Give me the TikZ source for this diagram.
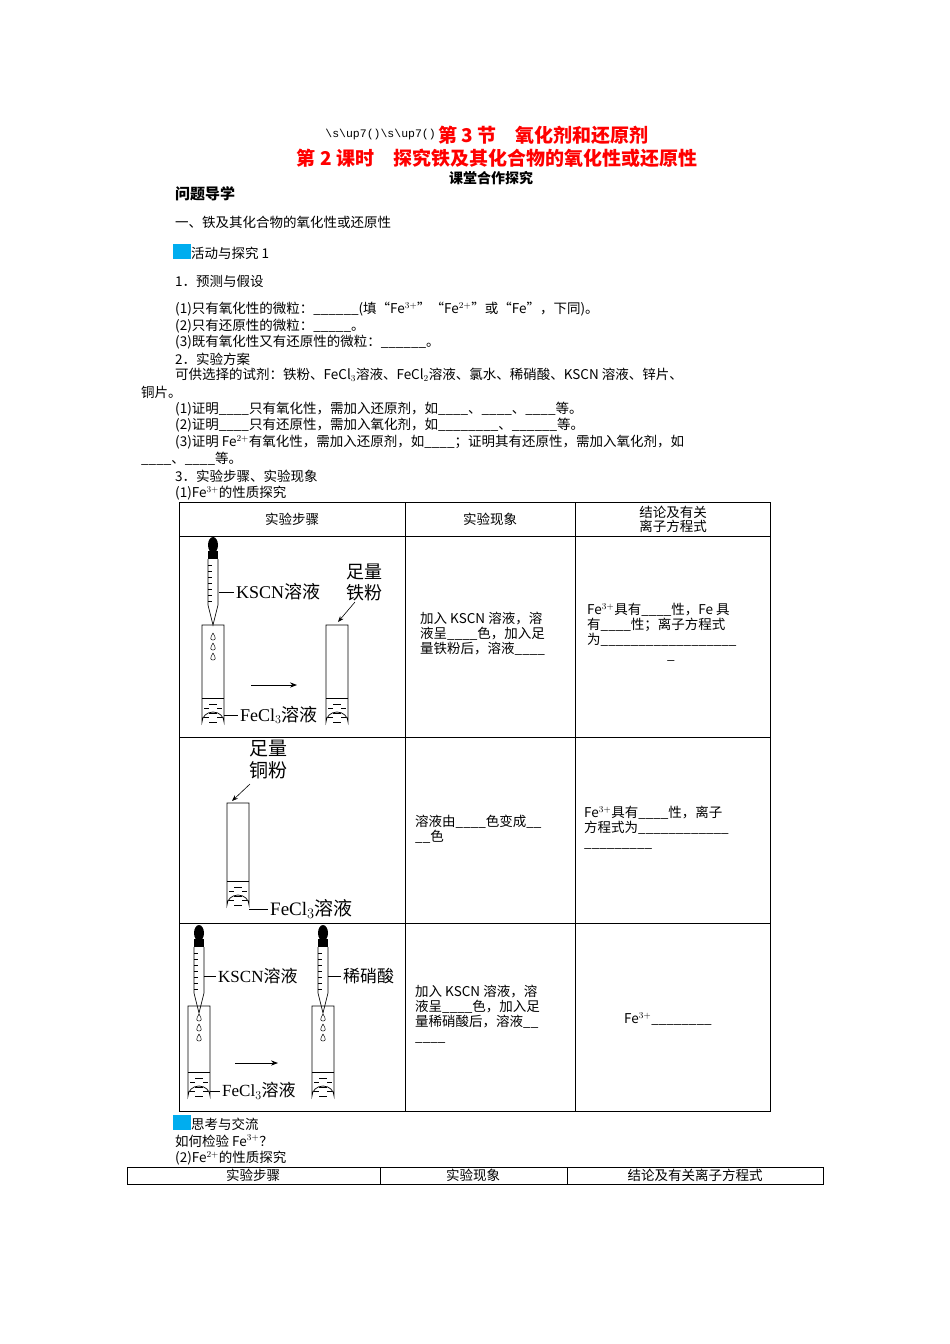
\documentclass[tikz,border=0pt]{standalone}
\usepackage{fontspec}
\setmainfont{Liberation Serif}
\setmonofont{Liberation Mono}
\newfontfamily\cjk{Noto Sans CJK SC}
\usetikzlibrary{arrows.meta}
\newcommand\zh[1]{{\cjk #1}}
\begin{document}
\begin{tikzpicture}[x=1pt,y=-1pt,
 t/.style={anchor=west,inner sep=0,font=\cjk\fontsize{13.5}{15}\selectfont},
 lab/.style={anchor=west,inner sep=0,font=\fontsize{18}{20}\selectfont},
 cell/.style={anchor=north west,inner sep=0,align=left,font=\cjk\fontsize{13.5}{15}\selectfont},
 grid/.style={line width=0.8pt},
 pics/tube/.style={code={
   \draw[line width=0.7pt] (-11,0) -- (-11,#1-10) arc(180:360:11 and 10) -- (11,0) -- cycle;
   \draw[line width=0.6pt] (-11,#1-34) -- (11,#1-34);
   \foreach \yy in {-28,-19,-10}{\draw[line width=0.5pt] (-4,#1+\yy) -- (4,#1+\yy);}
   \foreach \yy in {-23.5,-14.5}{\draw[line width=0.5pt] (-9,#1+\yy) -- (-4,#1+\yy) (4,#1+\yy) -- (9,#1+\yy);}
 }},
 pics/pip/.style={code={
   \fill (0,0) ellipse (5 and 8);
   \fill (-5,6) rectangle (5,14);
   \draw[line width=0.7pt] (-5,14) -- (-5,60) -- (0,80) -- (5,60) -- (5,14);
   \foreach \yy in {20,26,...,56}{\draw[line width=0.4pt] (-5,\yy) -- (-1,\yy);}
 }},
 pics/drops/.style={code={
   \foreach \yy in {0,10,20}{\draw[line width=0.5pt] (0,\yy) .. controls (-3,\yy+5) and (-3,\yy+7) .. (0,\yy+7) .. controls (3,\yy+7) and (3,\yy+5) .. (0,\yy);}
 }}]
\fill[white] (0,0) rectangle (950,1344);
\node[anchor=east,inner sep=0,font=\ttfamily\fontsize{11.5}{14}\selectfont] (h0) at (436,135) {\textbackslash s\textbackslash up7()\textbackslash s\textbackslash up7()};
\node[anchor=west,inner sep=0,text=red,font=\cjk\bfseries\fontsize{19}{21}\selectfont] (h1) at (438,135) {第 3 节\quad 氧化剂和还原剂};
\node[anchor=center,inner sep=0,text=red,font=\cjk\bfseries\fontsize{19}{21}\selectfont] (h2) at (497,158) {第 2 课时\quad 探究铁及其化合物的氧化性或还原性};
\node[anchor=center,inner sep=0,font=\cjk\bfseries\fontsize{14}{16}\selectfont] (h3) at (491,178) {课堂合作探究};
\node[t,font=\cjk\bfseries\fontsize{15}{16}\selectfont] (a1) at (175,194) {问题导学};
\node[t] (a2) at (175,222) {一、铁及其化合物的氧化性或还原性};
\fill[cyan] (173,244) rectangle (191,259);
\node[t] (a3) at (191,253) {活动与探究 1};
\node[t] (a4) at (175,281) {1．预测与假设};
\node[t] (a5) at (175,309) {(1)只有氧化性的微粒：\_\_\_\_\_\_(填“Fe$^{3+}$”“Fe$^{2+}$”或“Fe”，下同)。};
\node[t] (a6) at (175,326) {(2)只有还原性的微粒：\_\_\_\_\_。};
\node[t] (a7) at (175,342) {(3)既有氧化性又有还原性的微粒：\_\_\_\_\_\_。};
\node[t] (a8) at (175,359) {2．实验方案};
\node[t] (a9) at (175,375) {可供选择的试剂：铁粉、FeCl$_3$溶液、FeCl$_2$溶液、氯水、稀硝酸、KSCN 溶液、锌片、};
\node[t] (a10) at (141,392) {铜片。};
\node[t] (a11) at (175,409) {(1)证明\_\_\_\_只有氧化性，需加入还原剂，如\_\_\_\_、\_\_\_\_、\_\_\_\_等。};
\node[t] (a12) at (175,425) {(2)证明\_\_\_\_只有还原性，需加入氧化剂，如\_\_\_\_\_\_\_\_、\_\_\_\_\_\_等。};
\node[t] (a13) at (175,442) {(3)证明 Fe$^{2+}$有氧化性，需加入还原剂，如\_\_\_\_；证明其有还原性，需加入氧化剂，如};
\node[t] (a14) at (141,459) {\_\_\_\_、\_\_\_\_等。};
\node[t] (a15) at (175,476) {3．实验步骤、实验现象};
\node[t] (a16) at (175,493) {(1)Fe$^{3+}$的性质探究};
% table 1
\draw[grid] (179,502) rectangle (770,1111);
\draw[grid] (405,502) -- (405,1111) (575,502) -- (575,1111);
\draw[grid] (179,536) -- (770,536) (179,737) -- (770,737) (179,923) -- (770,923);
\node[t,anchor=center] (c1) at (292,519) {实验步骤};
\node[t,anchor=center] (c2) at (490,519) {实验现象};
\node[t,anchor=center,align=center,font=\cjk\fontsize{13.5}{14}\selectfont] (c3) at (673,519) {结论及有关\\离子方程式};
\node[cell] (r1b) at (420,612) {加入 KSCN 溶液，溶\\液呈\_\_\_\_色，加入足\\量铁粉后，溶液\_\_\_\_};
\node[cell] (r1c) at (587,603) {Fe$^{3+}$具有\_\_\_\_性，Fe 具\\有\_\_\_\_性；离子方程式\\为\_\_\_\_\_\_\_\_\_\_\_\_\_\_\_\_\_\_\\\hspace*{80pt}\_};
\node[cell] (r2b) at (415,815) {溶液由\_\_\_\_色变成\_\_\\\_\_色};
\node[cell] (r2c) at (584,806) {Fe$^{3+}$具有\_\_\_\_性，离子\\方程式为\_\_\_\_\_\_\_\_\_\_\_\_\\\_\_\_\_\_\_\_\_\_};
\node[cell] (r3b) at (415,985) {加入 KSCN 溶液，溶\\液呈\_\_\_\_色，加入足\\量稀硝酸后，溶液\_\_\\\_\_\_\_};
\node[t] (r3c) at (624,1019) {Fe$^{3+}$\_\_\_\_\_\_\_\_};
% row 1 drawing
\pic at (213,545) {pip};
\pic at (213,633) {drops};
\pic at (213,625) {tube=107};
\pic at (337,625) {tube=107};
\draw[-{Stealth[length=7pt]},line width=0.8pt] (251,685) -- (297,685);
\draw[line width=0.6pt] (219,592) -- (234,592);
\node[lab] (k1) at (236,592) {KSCN\zh{溶液}};
\draw[line width=0.6pt] (224,715) -- (238,715);
\node[lab] (f1) at (240,715) {FeCl$_3$\zh{溶液}};
\node[lab,anchor=center,align=center,font=\cjk\fontsize{18}{21}\selectfont] (z1) at (364,582) {足量\\铁粉};
\coordinate (t2top) at (338,622);
\draw[-{Stealth[length=6pt]},line width=0.6pt] (355,602) -- (t2top);
% row 2
\pic at (238,803) {tube=112};
\node[lab,anchor=center,align=center,font=\cjk\fontsize{19}{22}\selectfont] (z2) at (268,760) {足量\\铜粉};
\coordinate (t3top) at (232,801);
\draw[-{Stealth[length=6pt]},line width=0.6pt] (250,784) -- (t3top);
\draw[line width=0.6pt] (249,909) -- (268,909);
\node[lab,font=\fontsize{19}{20}\selectfont] (f2) at (270,909) {FeCl$_3$\zh{溶液}};
% row 3
\pic at (199,933) {pip};
\pic at (323,933) {pip};
\pic at (199,1014) {drops};
\pic at (323,1014) {drops};
\pic at (199,1006) {tube=100};
\pic at (323,1006) {tube=100};
\draw[-{Stealth[length=7pt]},line width=0.8pt] (235,1063) -- (278,1063);
\draw[line width=0.6pt] (204,976) -- (216,976);
\node[lab,font=\fontsize{17}{20}\selectfont] (k3) at (218,976) {KSCN\zh{溶液}};
\draw[line width=0.6pt] (328,976) -- (341,976);
\node[lab,font=\cjk\fontsize{17}{20}\selectfont] (x3) at (343,976) {稀硝酸};
\draw[line width=0.6pt] (210,1091) -- (220,1091);
\node[lab,font=\fontsize{17}{20}\selectfont] (f3) at (222,1091) {FeCl$_3$\zh{溶液}};
% after
\fill[cyan] (173,1115) rectangle (191,1130);
\node[t] (b1) at (191,1124) {思考与交流};
\node[t] (b2) at (175,1141) {如何检验 Fe$^{3+}$？};
\node[t] (b3) at (175,1158) {(2)Fe$^{2+}$的性质探究};
\draw[grid] (127,1167) rectangle (823,1184);
\draw[grid] (380,1167) -- (380,1184) (567,1167) -- (567,1184);
\node[t,anchor=center] (d1) at (253,1175) {实验步骤};
\node[t,anchor=center] (d2) at (473,1175) {实验现象};
\node[t,anchor=center] (d3) at (695,1175) {结论及有关离子方程式};
\end{tikzpicture}
\end{document}
